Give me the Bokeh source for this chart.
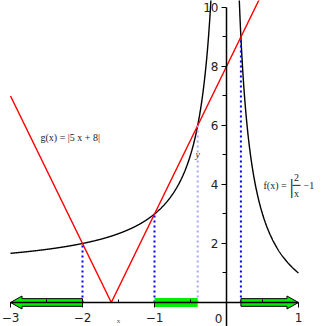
import numpy as np
from bokeh.plotting import figure
from bokeh.models import Range1d, FixedTicker, LinearAxis
from bokeh.core.properties import value
from bokeh.embed import file_html
from bokeh.resources import INLINE

# ---- data ----
f_num = 2.0      # f(x) = |2/x - 1|
f_const = 1.0
g_slope = 5.0    # g(x) = |5x + 8|
g_int = 8.0
x_min, x_max = -3.0, 1.0
cross_x = [-2.0, -1.0, -0.4, 0.2]
cross_y = [2.0, 3.0, 6.0, 9.0]
cross_col = ["#0000ff", "#0000ff", "#a8a8f4", "#0000ff"]
sol_left = (-3.0, -2.0)
sol_mid = (-1.0, -0.4)
sol_right = (0.2, 1.0)
xticks = [-3, -2, -1, 1]
yticks = [2, 4, 6, 8, 10]

p = figure(width=326, height=326, output_backend="svg", toolbar_location=None,
           x_range=Range1d(-3.139, 1.389), y_range=Range1d(-0.814, 10.237),
           x_axis_location=None, y_axis_location=None, min_border=0)
p.outline_line_color = None
p.xgrid.visible = False
p.ygrid.visible = False

# curves
xl = np.linspace(x_min, -0.15, 800)
xr = np.linspace(0.15, x_max, 400)
p.line(xl, np.abs(f_num / xl - f_const), line_color="black", line_width=1.4)
p.line(xr, np.abs(f_num / xr - f_const), line_color="black", line_width=1.4)
xg = np.sort(np.append(np.linspace(x_min, 0.6, 600), -g_int / g_slope))
p.line(xg, np.abs(g_slope * xg + g_int), line_color="red", line_width=1.4)

# dotted verticals
p.segment(x0=cross_x, y0=[0] * 4, x1=cross_x, y1=cross_y, line_color=cross_col,
          line_width=2, line_dash="2 3")

# green solution arrows
hl, hh, sh = 0.16, 0.22, 0.13
a, b = sol_left
p.patch([a, a + hl, a + hl, b, b, a + hl, a + hl],
        [0, hh, sh, sh, -sh, -sh, -hh], fill_color="#00ee00", line_color="black", line_width=1)
a, b = sol_right
p.patch([b, b - hl, b - hl, a, a, b - hl, b - hl],
        [0, hh, sh, sh, -sh, -sh, -hh], fill_color="#00ee00", line_color="black", line_width=1)
a, b = sol_mid
p.quad(left=[a], right=[b], bottom=[-0.15], top=[0.15], fill_color="#00ee00", line_color=None)

# axes
xa = LinearAxis(ticker=FixedTicker(ticks=xticks, minor_ticks=[-2.5, -1.5, -0.5, 0.5]))
xa.fixed_location = 0
xa.bounds = (x_min, x_max)
ya = LinearAxis(ticker=FixedTicker(ticks=yticks, minor_ticks=[1, 3, 5, 7, 9]))
ya.fixed_location = 0
ya.bounds = (-0.814, 10)
for ax in (xa, ya):
    ax.axis_line_width = 1.5
    ax.axis_line_color = "black"
    ax.major_tick_line_color = "black"
    ax.minor_tick_line_color = "black"
    ax.major_label_text_font = "DejaVu Sans"
    ax.major_label_text_font_size = "12px"
    ax.major_label_text_color = "#222222"
xa.major_tick_in = 0
xa.major_tick_out = 5
xa.minor_tick_in = 3
xa.minor_tick_out = 0
xa.major_label_standoff = 6
ya.major_tick_in = 0
ya.major_tick_out = 5
ya.minor_tick_in = 0
ya.minor_tick_out = 4
ya.major_label_standoff = 3
p.add_layout(xa, "below")
p.add_layout(ya, "left")

# origin label and axis labels
p.text(x=[0], y=[0], text=["0"], x_offset=-8, y_offset=16, text_font=value("DejaVu Sans"),
       text_font_size="12px", text_color="#222222", text_align="center", text_baseline="middle")
p.text(x=[-1.5], y=[0], text=["x"], y_offset=19, text_font=value("Liberation Serif"),
       text_font_size="7px", text_color="#555555", text_align="center", text_baseline="middle")
p.text(x=[-0.4], y=[5.0], text=["y"], text_font=value("Liberation Serif"), text_font_style="italic",
       text_font_size="10px", text_color="#444444", text_align="center", text_baseline="middle")

# function labels
p.text(x=[-2.583], y=[5.59], text=["g(x) = |5 x + 8|"], text_font=value("Liberation Serif"),
       text_font_size="10px", text_color="#222222", text_align="left", text_baseline="middle")
fx, fy = 0.514, 3.97
p.text(x=[fx], y=[fy], text=["f(x) ="], text_font=value("Liberation Serif"),
       text_font_size="10px", text_color="#222222", text_align="left", text_baseline="middle")
p.text(x=[fx], y=[fy], text=["|"], x_offset=26, text_font=value("Liberation Serif"),
       text_font_size="22px", text_color="#222222", text_align="left", text_baseline="middle")
p.text(x=[fx, fx], y=[fy, fy], text=["2", "x"], x_offset=33, y_offset=[-8, 8],
       text_font=value("Liberation Serif"), text_font_size="10px", text_color="#222222",
       text_align="center", text_baseline="middle")
p.text(x=[fx], y=[fy], text=["\u22121"], x_offset=40, text_font=value("Liberation Serif"),
       text_font_size="10px", text_color="#222222", text_align="left", text_baseline="middle")
p.segment(x0=[fx + 29 / 72], y0=[fy], x1=[fx + 37 / 72], y1=[fy], line_color="#222222", line_width=1)

open("out.html", "w").write(file_html(p, INLINE))
